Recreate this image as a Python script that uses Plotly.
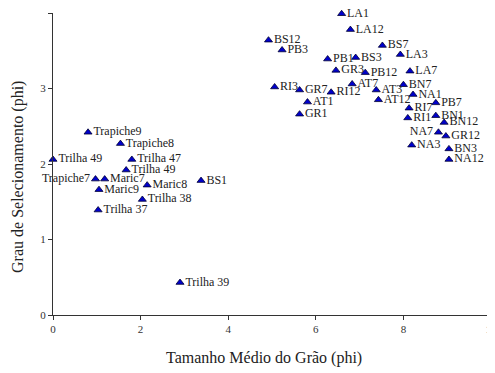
import plotly.graph_objects as go

labels = ["Trapiche9", "Trapiche8", "Trilha 49", "Trilha 47", "Trilha 49", "Trapiche7",
          "Maric7", "Maric9", "Maric8", "BS1", "Trilha 38", "Trilha 37", "Trilha 39",
          "LA1", "LA12", "BS12", "PB3", "BS7", "LA3", "PB1", "BS3", "GR3", "PB12", "LA7",
          "RI3", "GR7", "RI12", "AT7", "AT3", "BN7", "NA1", "AT1", "AT12", "GR1", "PB7",
          "RI7", "RI1", "BN1", "BN12", "NA7", "GR12", "NA3", "BN3", "NA12"]
mean_size = [0.80, 1.54, 0.00, 1.80, 1.67, 0.97, 1.18, 1.05, 2.15, 3.38, 2.04, 1.03, 2.90,
             6.59, 6.79, 4.92, 5.23, 7.52, 7.93, 6.27, 6.91, 6.46, 7.13, 8.15,
             5.06, 5.63, 6.35, 6.83, 7.38, 8.00, 8.22, 5.81, 7.43, 5.63, 8.74,
             8.13, 8.10, 8.74, 8.93, 8.80, 8.97, 8.19, 9.04, 9.04]
sorting = [2.42, 2.27, 2.06, 2.06, 1.92, 1.80, 1.80, 1.66, 1.72, 1.78, 1.53, 1.39, 0.43,
           3.99, 3.78, 3.64, 3.51, 3.57, 3.45, 3.39, 3.41, 3.24, 3.21, 3.23,
           3.02, 2.98, 2.95, 3.06, 2.98, 3.05, 2.92, 2.82, 2.85, 2.66, 2.81,
           2.74, 2.61, 2.64, 2.55, 2.42, 2.37, 2.25, 2.20, 2.06]
left_labels = {"Trapiche7", "NA7"}
text_pos = ["middle left" if l in left_labels else "middle right" for l in labels]

x_ticks = [0, 2, 4, 6, 8, 10]
y_ticks = [0, 1, 2, 3, 4]

font_family = "Liberation Serif"

fig = go.Figure()
fig.add_trace(go.Scatter(
    x=mean_size, y=sorting, text=labels, mode="markers+text",
    textposition=text_pos,
    textfont=dict(family=font_family, size=12, color="#222222"),
    marker=dict(symbol="triangle-up", size=7, color="#0000cc",
                line=dict(color="#000033", width=0.8)),
    cliponaxis=False, showlegend=False,
))

axis_common = dict(showgrid=False, zeroline=False, showline=True, linecolor="#333333",
                   linewidth=1, tickcolor="#333333", tickwidth=1, automargin=False)
fig.update_layout(
    width=495, height=373,
    margin=dict(l=45, r=12, t=5, b=66),
    paper_bgcolor="white", plot_bgcolor="white",
    font=dict(family=font_family, color="#333333"),
    xaxis=dict(range=[0, 10], tickvals=x_ticks, ticks="outside", ticklen=4,
               tickfont=dict(size=11, family=font_family), **axis_common),
    yaxis=dict(range=[0, 4], tickvals=y_ticks, ticks="outside", ticklen=4,
               tickfont=dict(size=11, family=font_family), **axis_common),
    xaxis2=dict(range=[0, 10], tickvals=x_ticks, ticks="inside", ticklen=8,
                showticklabels=False, overlaying="x", anchor="y", side="bottom",
                **axis_common),
    yaxis2=dict(range=[0, 4], tickvals=y_ticks, ticks="inside", ticklen=6,
                showticklabels=False, overlaying="y", anchor="x", side="left",
                **axis_common),
    annotations=[
        dict(text="Tamanho Médio do Grão (phi)", xref="paper", yref="paper",
             x=0.481, y=-0.142, xanchor="center", yanchor="middle", showarrow=False,
             font=dict(size=16, family=font_family, color="#222222")),
        dict(text="Grau de Selecionamento (phi)", xref="paper", yref="paper",
             x=-0.08, y=0.457, xanchor="center", yanchor="middle", showarrow=False,
             textangle=-90, font=dict(size=16, family=font_family, color="#222222")),
    ],
)

fig.write_html("out.html")
